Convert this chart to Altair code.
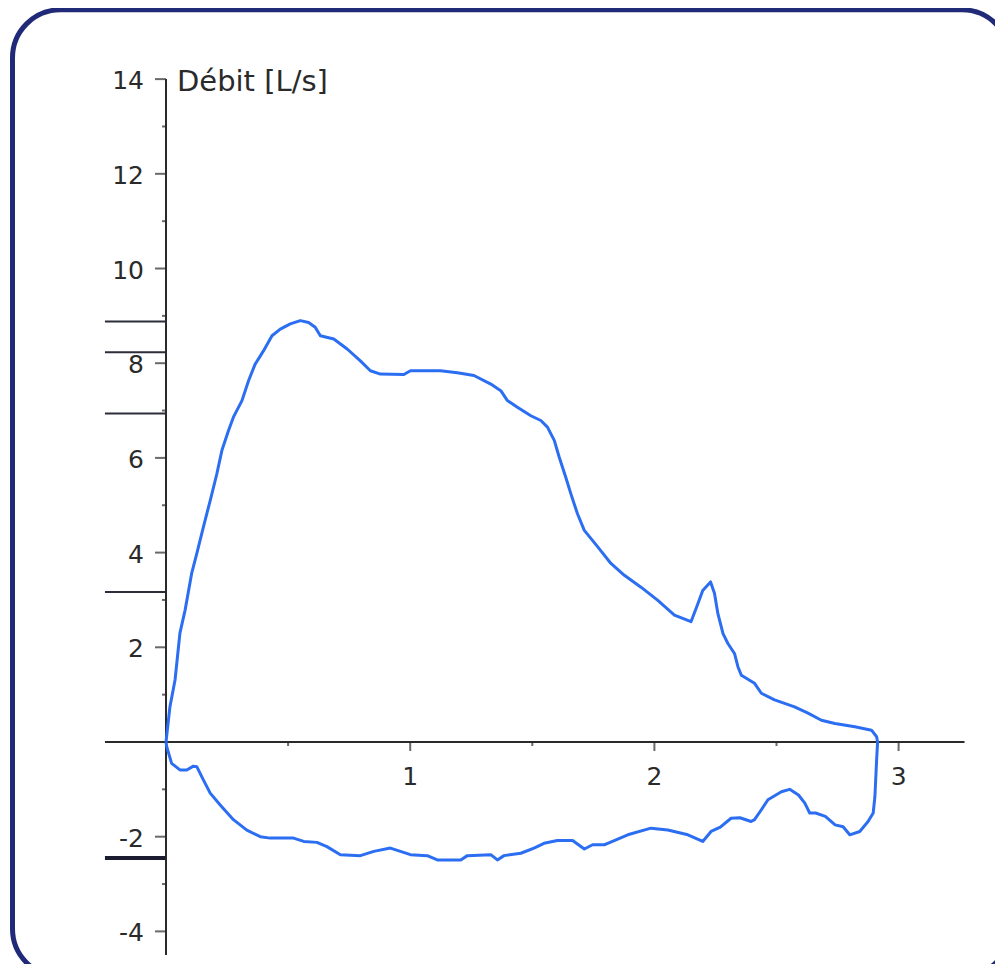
import altair as alt
import pandas as pd

# ---- data ----
# expiratory limb (upper curve), volume [L] and flow [L/s]
exp_volume = [0.000, 0.016, 0.037, 0.057, 0.078, 0.105, 0.126, 0.153, 0.181, 0.208,
              0.229, 0.256, 0.276, 0.311, 0.338, 0.365, 0.399, 0.434, 0.468, 0.509,
              0.550, 0.584, 0.611, 0.632, 0.687, 0.742, 0.796, 0.837, 0.878, 0.974,
              1.001, 1.124, 1.193, 1.261, 1.330, 1.371, 1.398, 1.439, 1.494, 1.535,
              1.562, 1.590, 1.610, 1.637, 1.658, 1.685, 1.713, 1.768, 1.822, 1.877,
              1.945, 2.014, 2.082, 2.150, 2.178, 2.198, 2.230, 2.246, 2.260, 2.281,
              2.301, 2.328, 2.342, 2.356, 2.410, 2.438, 2.492, 2.574, 2.629, 2.684,
              2.739, 2.821, 2.889, 2.910, 2.914]
exp_flow = [0.00, 0.74, 1.31, 2.30, 2.78, 3.56, 3.98, 4.54, 5.10, 5.66,
            6.16, 6.58, 6.86, 7.21, 7.63, 7.98, 8.26, 8.58, 8.72, 8.83,
            8.90, 8.86, 8.76, 8.58, 8.51, 8.30, 8.05, 7.84, 7.77, 7.76,
            7.84, 7.84, 7.80, 7.74, 7.56, 7.42, 7.21, 7.07, 6.89, 6.79,
            6.65, 6.37, 6.02, 5.59, 5.24, 4.82, 4.47, 4.12, 3.77, 3.52,
            3.27, 2.99, 2.68, 2.54, 2.92, 3.20, 3.38, 3.14, 2.71, 2.29,
            2.08, 1.87, 1.59, 1.41, 1.24, 1.03, 0.89, 0.74, 0.61, 0.46,
            0.39, 0.32, 0.25, 0.11, 0.00]

# inspiratory limb (lower curve), drawn from right back to the origin
insp_volume = [2.910, 2.903, 2.896, 2.875, 2.841, 2.800, 2.773, 2.740, 2.700, 2.660,
               2.636, 2.616, 2.590, 2.554, 2.520, 2.465, 2.438, 2.410, 2.396, 2.350,
               2.314, 2.270, 2.232, 2.198, 2.137, 2.055, 1.986, 1.891, 1.809, 1.795,
               1.747, 1.713, 1.665, 1.603, 1.548, 1.507, 1.453, 1.384, 1.357, 1.330,
               1.234, 1.207, 1.111, 1.070, 1.001, 0.919, 0.851, 0.796, 0.714, 0.659,
               0.618, 0.564, 0.522, 0.427, 0.386, 0.331, 0.276, 0.222, 0.181, 0.153,
               0.126, 0.112, 0.085, 0.057, 0.023, 0.003, 0.000]
insp_flow = [-0.38, -1.15, -1.50, -1.68, -1.89, -1.96, -1.79, -1.75, -1.57, -1.50,
             -1.50, -1.29, -1.12, -1.00, -1.05, -1.22, -1.43, -1.64, -1.68, -1.60,
             -1.61, -1.80, -1.89, -2.10, -1.96, -1.86, -1.82, -1.96, -2.14, -2.17,
             -2.17, -2.26, -2.08, -2.08, -2.14, -2.24, -2.35, -2.40, -2.49, -2.38,
             -2.40, -2.49, -2.49, -2.40, -2.38, -2.24, -2.31, -2.40, -2.38, -2.21,
             -2.12, -2.10, -2.03, -2.03, -2.00, -1.86, -1.64, -1.33, -1.08, -0.80,
             -0.52, -0.51, -0.59, -0.59, -0.45, -0.10, 0.00]

y_major = [-4, -2, 2, 4, 6, 8, 10, 12, 14]
y_labels = ["-4", "-2", "2", "4", "6", "8", "10", "12", "14"]
y_minor = [-3, -1, 1, 3, 5, 7, 9, 11, 13]
x_major = [1, 2, 3]
x_labels = ["1", "2", "3"]
x_minor = [0.5, 1.5, 2.5]
ref_thin = [8.88, 8.23, 6.94, 3.17]
ref_thick = [-2.45]
x_axis_span = [-0.25, 3.27]
y_axis_span = [-4.5, 14]
y_title = "Débit [L/s]"

# ---- scales ----
xs = alt.Scale(domain=[-0.6286, 3.4562], nice=False, zero=False)
ys = alt.Scale(domain=[-4.959, 15.464], nice=False, zero=False)

INK = "#2a2a2a"
FONT = "DejaVu Sans"

curve = pd.DataFrame({
    "volume": exp_volume + insp_volume,
    "flow": exp_flow + insp_flow,
})
curve["i"] = range(len(curve))

line = alt.Chart(curve).mark_line(color="#2b6ef2", strokeWidth=3, strokeJoin="round").encode(
    x=alt.X("volume:Q", scale=xs, axis=None),
    y=alt.Y("flow:Q", scale=ys, axis=None),
    order="i:Q",
)

# axis lines
xaxis_df = pd.DataFrame({"a": [x_axis_span[0]], "b": [x_axis_span[1]], "y": [0]})
xaxis = alt.Chart(xaxis_df).mark_rule(color=INK, strokeWidth=2).encode(
    x=alt.X("a:Q", scale=xs, axis=None), x2="b:Q", y=alt.Y("y:Q", scale=ys, axis=None))
yaxis_df = pd.DataFrame({"a": [y_axis_span[0]], "b": [y_axis_span[1]], "x": [0]})
yaxis = alt.Chart(yaxis_df).mark_rule(color=INK, strokeWidth=2).encode(
    y=alt.Y("a:Q", scale=ys, axis=None), y2="b:Q", x=alt.X("x:Q", scale=xs, axis=None))

# left reference lines
thin_df = pd.DataFrame({"y": ref_thin, "a": x_axis_span[0], "b": 0})
thin = alt.Chart(thin_df).mark_rule(color="#2c2c3a", strokeWidth=2).encode(
    x=alt.X("a:Q", scale=xs, axis=None), x2="b:Q", y=alt.Y("y:Q", scale=ys, axis=None))
thick_df = pd.DataFrame({"y": ref_thick, "a": x_axis_span[0], "b": 0})
thick = alt.Chart(thick_df).mark_rule(color="#1c1c30", strokeWidth=4).encode(
    x=alt.X("a:Q", scale=xs, axis=None), x2="b:Q", y=alt.Y("y:Q", scale=ys, axis=None))

# y ticks
ymaj_df = pd.DataFrame({"y": y_major, "x": 0, "lab": y_labels})
ymaj = alt.Chart(ymaj_df).mark_tick(orient="horizontal", size=11, thickness=2, xOffset=-5.5, color=INK).encode(
    x=alt.X("x:Q", scale=xs, axis=None), y=alt.Y("y:Q", scale=ys, axis=None))
ylab = alt.Chart(ymaj_df).mark_text(align="right", baseline="middle", dx=-22, dy=2,
                                     fontSize=25, font=FONT, color=INK).encode(
    x=alt.X("x:Q", scale=xs, axis=None), y=alt.Y("y:Q", scale=ys, axis=None), text="lab:N")
ymin_df = pd.DataFrame({"y": y_minor, "x": 0})
ymin = alt.Chart(ymin_df).mark_tick(orient="horizontal", size=4, thickness=2, xOffset=-2, color=INK).encode(
    x=alt.X("x:Q", scale=xs, axis=None), y=alt.Y("y:Q", scale=ys, axis=None))

# x ticks
xmaj_df = pd.DataFrame({"x": x_major, "y": 0, "lab": x_labels})
xmaj = alt.Chart(xmaj_df).mark_tick(orient="vertical", size=9, thickness=2, yOffset=4.5, color=INK).encode(
    x=alt.X("x:Q", scale=xs, axis=None), y=alt.Y("y:Q", scale=ys, axis=None))
xlab = alt.Chart(xmaj_df).mark_text(align="center", baseline="middle", dy=35,
                                     fontSize=25, font=FONT, color=INK).encode(
    x=alt.X("x:Q", scale=xs, axis=None), y=alt.Y("y:Q", scale=ys, axis=None), text="lab:N")
xmin_df = pd.DataFrame({"x": x_minor, "y": 0})
xmin = alt.Chart(xmin_df).mark_tick(orient="vertical", size=4, thickness=2, yOffset=2, color=INK).encode(
    x=alt.X("x:Q", scale=xs, axis=None), y=alt.Y("y:Q", scale=ys, axis=None))

# axis title next to the top tick
title_df = pd.DataFrame({"x": [0], "y": [y_axis_span[1]], "t": [y_title]})
title = alt.Chart(title_df).mark_text(align="left", baseline="middle", dx=11, dy=3,
                                       fontSize=29, font=FONT, color=INK).encode(
    x=alt.X("x:Q", scale=xs, axis=None), y=alt.Y("y:Q", scale=ys, axis=None), text="t:N")

chart = alt.layer(thin, thick, xaxis, yaxis, ymaj, ymin, xmaj, xmin, ylab, xlab, title, line).properties(
    width=997.5,
    height=967,
    padding={"left": 4.5, "top": 1.8, "right": -15, "bottom": -13},
    autosize=alt.AutoSizeParams(type="none"),
    background="white",
).configure_view(
    stroke="#202a78",
    strokeWidth=5,
    cornerRadius=48,
    fill="white",
)

chart.save("out.html", embed_options={"renderer": "svg", "actions": False})
